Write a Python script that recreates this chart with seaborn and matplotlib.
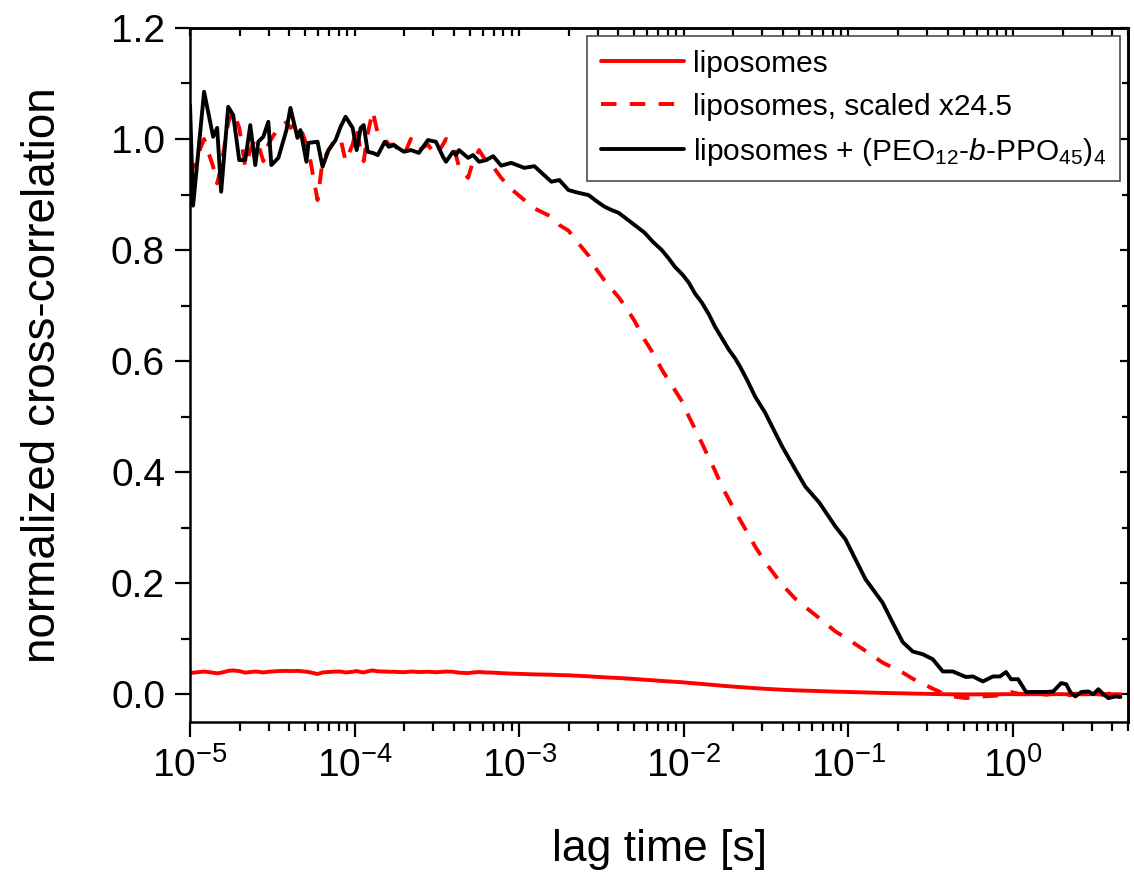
import numpy as np
import seaborn as sns
import matplotlib.pyplot as plt
from matplotlib.ticker import MultipleLocator, FormatStrFormatter

# lag times [s] (quasi-log correlator channels)
lag_time = [
    1.000e-5, 1.043e-5, 1.217e-5, 1.381e-5, 1.461e-5, 1.545e-5, 1.705e-5, 1.829e-5, 1.990e-5, 2.164e-5,
    2.322e-5, 2.490e-5, 2.597e-5, 2.786e-5, 2.989e-5, 3.117e-5, 3.440e-5, 3.849e-5, 4.072e-5, 4.492e-5,
    4.685e-5, 5.095e-5, 5.241e-5, 5.948e-5, 6.379e-5, 6.940e-5, 7.657e-5, 8.215e-5, 8.811e-5, 9.723e-5,
    1.028e-4, 1.088e-4, 1.135e-4, 1.200e-4, 1.288e-4, 1.381e-4, 1.524e-4, 1.612e-4, 1.729e-4, 1.990e-4,
    2.195e-4, 2.456e-4, 2.786e-4, 3.117e-4, 3.440e-4, 3.588e-4, 3.958e-4, 4.129e-4, 4.306e-4, 4.887e-4,
    5.241e-4, 5.701e-4, 6.291e-4, 6.940e-4, 7.766e-4, 8.937e-4, 1.073e-3, 1.235e-3, 1.567e-3, 1.753e-3,
    1.990e-3, 2.290e-3, 2.635e-3, 2.948e-3, 3.299e-3, 3.639e-3, 4.016e-3, 4.492e-3, 5.024e-3, 5.783e-3,
    6.471e-3, 7.340e-3, 8.082e-3, 8.811e-3, 9.860e-3, 1.073e-2, 1.167e-2, 1.288e-2, 1.420e-2, 1.545e-2,
    1.705e-2, 1.881e-2, 2.047e-2, 2.195e-2, 2.421e-2, 2.710e-2, 3.117e-2, 3.958e-2, 4.751e-2, 5.467e-2,
    6.654e-2, 8.333e-2, 9.587e-2, 1.103e-1, 1.270e-1, 1.611e-1, 1.855e-1, 2.135e-1, 2.456e-1, 2.826e-1,
    3.252e-1, 3.742e-1, 4.305e-1, 5.168e-1, 5.703e-1, 6.563e-1, 7.551e-1, 8.331e-1, 9.063e-1, 9.723e-1,
    1.073, 1.200, 1.381, 1.589, 1.754, 1.962, 2.104, 2.226, 2.388, 2.598,
    2.867, 3.075, 3.298, 3.539, 3.796, 4.188, 4.493,
]

# liposomes + star polymer
g_lipo_peo = [
    1.060, 0.880, 1.085, 1.004, 1.020, 0.905, 1.058, 1.043, 0.962, 0.962,
    1.025, 0.953, 0.995, 1.004, 1.031, 0.953, 0.966, 1.016, 1.056, 1.002,
    1.016, 0.959, 0.993, 0.995, 0.950, 0.980, 0.998, 1.022, 1.040, 1.020,
    0.980, 1.020, 1.025, 0.977, 0.975, 0.971, 0.995, 0.986, 0.989, 0.977,
    0.980, 0.975, 0.998, 0.995, 0.968, 0.959, 0.977, 0.971, 0.980, 0.966,
    0.971, 0.959, 0.962, 0.969, 0.952, 0.957, 0.948, 0.951, 0.923, 0.926,
    0.908, 0.903, 0.899, 0.888, 0.878, 0.872, 0.867, 0.856, 0.845, 0.831,
    0.815, 0.800, 0.785, 0.770, 0.755, 0.741, 0.722, 0.705, 0.684, 0.662,
    0.641, 0.620, 0.605, 0.590, 0.566, 0.536, 0.507, 0.446, 0.405, 0.374,
    0.345, 0.302, 0.279, 0.243, 0.207, 0.165, 0.129, 0.094, 0.077, 0.072,
    0.063, 0.041, 0.041, 0.031, 0.032, 0.023, 0.032, 0.032, 0.040, 0.027,
    0.027, 0.004, 0.004, 0.004, 0.005, 0.020, 0.018, 0.004, -0.004, 0.004,
    0.005, 0.000, 0.009, 0.000, -0.007, -0.004, -0.005,
]

# liposomes alone, multiplied by the scale factor
g_lipo_scaled = [
    0.93, 0.95, 1.00, 0.95, 0.92, 0.95, 1.03, 1.05, 1.02, 0.95,
    0.98, 1.00, 0.99, 0.96, 0.99, 1.00, 1.02, 1.03, 1.02, 1.03,
    1.02, 0.99, 0.98, 0.89, 0.96, 0.98, 1.00, 1.00, 0.96, 0.99,
    1.02, 0.98, 0.96, 1.01, 1.05, 1.01, 1.00, 0.99, 0.99, 0.97,
    1.00, 0.98, 0.99, 0.97, 0.99, 1.00, 0.99, 0.97, 0.95, 0.93,
    0.96, 0.98, 0.96, 0.95, 0.93, 0.91, 0.89, 0.875, 0.86, 0.845,
    0.835, 0.812, 0.79, 0.765, 0.745, 0.73, 0.715, 0.695, 0.672, 0.638,
    0.615, 0.585, 0.565, 0.548, 0.525, 0.50, 0.478, 0.452, 0.425, 0.403,
    0.374, 0.350, 0.330, 0.314, 0.292, 0.266, 0.238, 0.197, 0.172, 0.157,
    0.137, 0.113, 0.102, 0.090, 0.078, 0.057, 0.048, 0.039, 0.028, 0.019,
    0.010, 0.002, -0.004, -0.007, -0.006, -0.004, -0.003, -0.002, 0.002, 0.004,
    0.001, 0.000, 0.002, -0.001, 0.001, 0.003, 0.000, -0.002, 0.001, 0.000,
    -0.001, 0.002, 0.000, -0.001, 0.001, 0.000, 0.000,
]

scale = 24.5
g_lipo = np.array(g_lipo_scaled) / scale

labels = [
    "liposomes",
    "liposomes, scaled x24.5",
    r"liposomes + (PEO$_{12}$-$b$-PPO$_{45}$)$_4$",
]

sns.set_style("ticks")
plt.rcParams["font.family"] = ["Liberation Sans", "DejaVu Sans"]
plt.rcParams["mathtext.fontset"] = "custom"
plt.rcParams["mathtext.rm"] = "Liberation Sans"
plt.rcParams["mathtext.it"] = "Liberation Sans:italic"
plt.rcParams["mathtext.bf"] = "Liberation Sans:bold"
for key in ["axes.edgecolor", "text.color", "axes.labelcolor", "xtick.color", "ytick.color"]:
    plt.rcParams[key] = "black"

fig = plt.figure(figsize=(11.34, 8.73), dpi=100)
ax = fig.add_axes([0.1676, 0.173, 0.8272, 0.795])

lw = 2.8
sns.lineplot(x=lag_time, y=g_lipo, color="#ff0000", lw=lw, estimator=None,
             sort=False, ax=ax, label=labels[0])
sns.lineplot(x=lag_time, y=g_lipo_scaled, color="#ff0000", lw=lw, estimator=None,
             sort=False, ax=ax, label=labels[1], linestyle=(0, (4, 3.4)))
sns.lineplot(x=lag_time, y=g_lipo_peo, color="black", lw=lw, estimator=None,
             sort=False, ax=ax, label=labels[2])

ax.set_xscale("log")
ax.set_xlim(1e-5, 5)
ax.set_ylim(-0.05, 1.2)
ax.yaxis.set_major_locator(MultipleLocator(0.2))
ax.yaxis.set_minor_locator(MultipleLocator(0.1))
ax.yaxis.set_major_formatter(FormatStrFormatter("%.1f"))

for s in ax.spines.values():
    s.set_visible(True)
    s.set_linewidth(1.8)
    s.set_color("black")

ax.tick_params(which="major", length=11, width=1.6, labelsize=28, pad=7,
               color="black", direction="out")
ax.tick_params(which="minor", length=6.5, width=1.6, color="black", direction="out")

# mirrored ticks pointing inward on top and right
top = ax.secondary_xaxis("top")
top.tick_params(which="major", direction="in", length=6, width=1.6, labeltop=False)
top.tick_params(which="minor", direction="in", length=6, width=1.6)
right = ax.secondary_yaxis("right")
right.yaxis.set_major_locator(MultipleLocator(0.2))
right.yaxis.set_minor_locator(MultipleLocator(0.1))
right.tick_params(which="major", direction="in", length=6, width=1.6, labelright=False)
right.tick_params(which="minor", direction="in", length=4, width=1.6)
for a in (top, right):
    for s in a.spines.values():
        s.set_linewidth(1.8)

ax.set_xlabel("lag time [s]", fontsize=32, labelpad=32)
ax.set_ylabel("normalized cross-correlation", fontsize=33, labelpad=33)

leg = ax.legend(loc="upper right", fontsize=21.5, frameon=True, fancybox=False,
                edgecolor="0.3", framealpha=1, handlelength=2.8, handletextpad=0.3,
                borderaxespad=0.28, labelspacing=0.5, borderpad=0.45)
leg.get_frame().set_linewidth(1.2)

fig.savefig("out.png", dpi=100)
